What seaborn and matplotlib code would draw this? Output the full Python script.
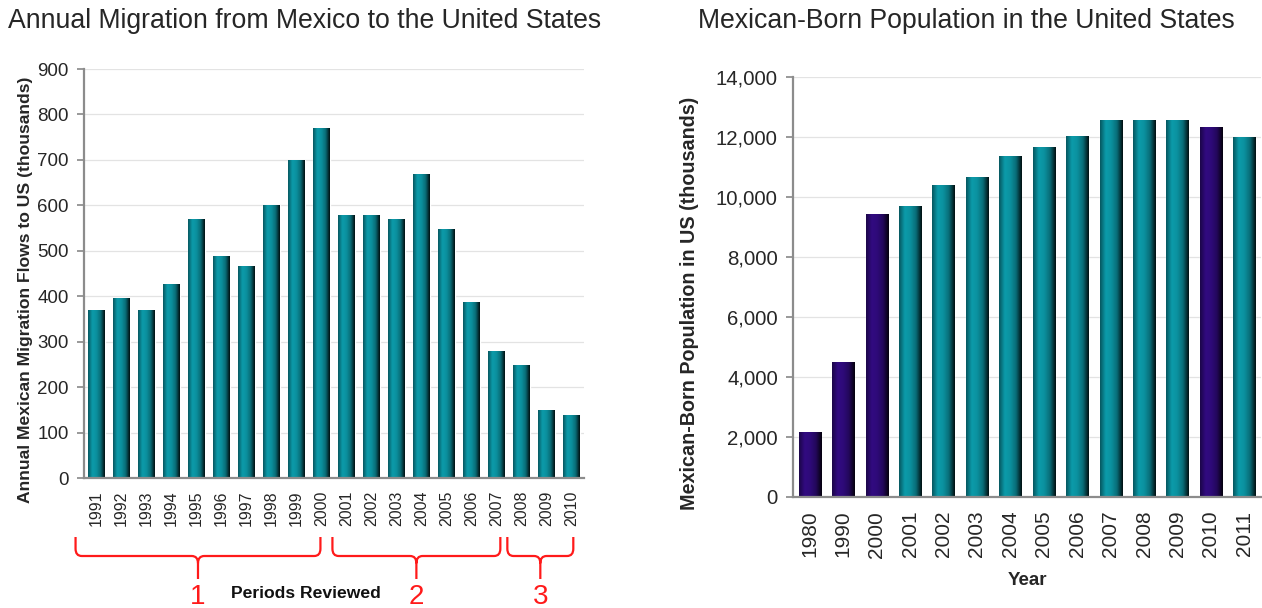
import numpy as np
import pandas as pd
import matplotlib
matplotlib.use("Agg")
import matplotlib.pyplot as plt
import matplotlib.transforms as mtransforms
from matplotlib.path import Path
from matplotlib.patches import PathPatch
from matplotlib.colors import LinearSegmentedColormap
import seaborn as sns

# ---- data ----
flow_years = ["1991", "1992", "1993", "1994", "1995", "1996", "1997", "1998", "1999", "2000",
              "2001", "2002", "2003", "2004", "2005", "2006", "2007", "2008", "2009", "2010"]
flow_values = [370, 397, 370, 428, 569, 488, 467, 600, 700, 770,
               579, 579, 569, 670, 549, 388, 279, 249, 149, 139]

pop_years = ["1980", "1990", "2000", "2001", "2002", "2003", "2004",
             "2005", "2006", "2007", "2008", "2009", "2010", "2011"]
pop_values = [2170, 4490, 9430, 9710, 10410, 10650, 11350,
              11650, 12040, 12550, 12550, 12575, 12330, 11990]
pop_kind = ["census", "census", "census", "estimate", "estimate", "estimate", "estimate",
            "estimate", "estimate", "estimate", "estimate", "estimate", "census", "estimate"]

# periods reviewed: (first year, last year, label)
periods = [("1991", "2000", "1"), ("2001", "2007", "2"), ("2008", "2010", "3")]

TEAL = "#0b909e"
PURPLE = "#2e0a78"
RED = "#ff1a1a"

flows = pd.DataFrame({"year": flow_years, "flow": flow_values})
pop = pd.DataFrame({"year": pop_years, "pop": pop_values, "kind": pop_kind})

sns.set_theme(style="white")
plt.rcParams["font.family"] = ["Liberation Sans", "DejaVu Sans"]

fig = plt.figure(figsize=(12.62, 6.08), dpi=100)
ax1 = fig.add_axes([0.0666, 0.2138, 0.396, 0.6727])
ax2 = fig.add_axes([0.6284, 0.1826, 0.3708, 0.6908])


def shade_bars(ax):
    # cylinder look: gradient clipped to each bar drawn by seaborn
    grad = np.linspace(0, 1, 64).reshape(1, -1)
    for p in list(ax.patches):
        c = np.array(p.get_facecolor()[:3])
        cm = LinearSegmentedColormap.from_list(
            "cyl", [np.clip(c * 0.6, 0, 1), np.clip(c * 1.08, 0, 1), c,
                    np.clip(c * 0.75, 0, 1), c * 0.1])
        x0, y0 = p.get_x(), p.get_y()
        w, h = p.get_width(), p.get_height()
        im = ax.imshow(grad, cmap=cm, aspect="auto", extent=[x0, x0 + w, y0, y0 + h],
                       zorder=p.get_zorder() + 0.1, interpolation="bicubic")
        im.set_clip_path(p)


def style_axes(ax, ymax, step):
    ax.set_ylim(0, ymax)
    ax.set_yticks(np.arange(0, ymax + 1, step))
    ax.yaxis.grid(True, color="#e3e3e3", linewidth=0.9)
    ax.set_axisbelow(True)
    for s in ["top", "right"]:
        ax.spines[s].set_visible(False)
    for s in ["left", "bottom"]:
        ax.spines[s].set_color("#8c8c8c")
        ax.spines[s].set_linewidth(1.6)
    ax.tick_params(axis="y", left=True, length=5, color="#8c8c8c", pad=6)
    ax.tick_params(axis="x", bottom=False, rotation=90)


# ---- left chart: annual flows ----
sns.barplot(data=flows, x="year", y="flow", color=TEAL, width=0.68,
            saturation=1, ax=ax1)
shade_bars(ax1)
style_axes(ax1, 900, 100)
ax1.set_xlim(-0.5, len(flow_years) - 0.5)
ax1.tick_params(axis="y", labelsize=13.5)
ax1.tick_params(axis="x", labelsize=11.5, pad=3)
ax1.set_ylabel("Annual Mexican Migration Flows to US (thousands)", fontsize=12.6,
               fontweight="bold")
ax1.yaxis.set_label_coords(-0.102, 0.46)
ax1.set_xlabel("")
fig.text(0.006, 0.965, "Annual Migration from Mexico to the United States",
         fontsize=19.2, color="#262626", ha="left", va="center")

# red braces under the year labels
trans = mtransforms.blended_transform_factory(ax1.transData, fig.transFigure)
y_top, y_mid, y_tip = 1 - 537 / 608, 1 - 556 / 608, 1 - 579 / 608
r = 0.25
ry = 0.012
for first, last, lab in periods:
    xa = flow_years.index(first) - (0.84 if lab == "1" else 0.56)
    xb = flow_years.index(last) + {"1": -0.04, "2": 0.16, "3": 0.08}[lab]
    xm = (xa + xb) / 2
    verts = [(xa, y_top), (xa, y_mid + ry), (xa, y_mid), (xa + r, y_mid),
             (xm - r, y_mid), (xm, y_mid), (xm, y_mid - ry), (xm, y_tip),
             (xm, y_mid - ry), (xm, y_mid), (xm + r, y_mid),
             (xb - r, y_mid), (xb, y_mid), (xb, y_mid + ry), (xb, y_top)]
    codes = [Path.MOVETO, Path.LINETO, Path.CURVE3, Path.CURVE3,
             Path.LINETO, Path.CURVE3, Path.CURVE3, Path.LINETO,
             Path.MOVETO, Path.CURVE3, Path.CURVE3,
             Path.LINETO, Path.CURVE3, Path.CURVE3, Path.LINETO]
    ax1.add_patch(PathPatch(Path(verts, codes), transform=trans, fill=False,
                            edgecolor=RED, linewidth=1.6, clip_on=False))
    ax1.text(xm, 1 - 597 / 608, lab, transform=trans, ha="center", va="center",
             fontsize=20, color=RED)
fig.text(306 / 1262, 1 - 594 / 608, "Periods Reviewed", ha="center", va="center",
         fontsize=12.6, fontweight="bold", color="#111111")

# ---- right chart: Mexican-born population ----
sns.barplot(data=pop, x="year", y="pop", hue="kind",
            palette={"census": PURPLE, "estimate": TEAL}, width=0.66,
            saturation=1, legend=False, dodge=False, ax=ax2)
shade_bars(ax2)
style_axes(ax2, 14000, 2000)
ax2.set_xlim(-0.5, len(pop_years) - 0.5)
ax2.yaxis.set_major_formatter(matplotlib.ticker.StrMethodFormatter("{x:,.0f}"))
ax2.tick_params(axis="y", labelsize=14.7, pad=6)
ax2.tick_params(axis="x", labelsize=15, pad=4)
ax2.set_ylabel("Mexican-Born Population in US (thousands)", fontsize=14.2,
               fontweight="bold")
ax2.yaxis.set_label_coords(-0.200, 0.46)
ax2.set_xlabel("Year", fontsize=13.5, fontweight="bold", labelpad=10)
fig.text(966 / 1262, 0.965, "Mexican-Born Population in the United States",
         fontsize=19.2, color="#262626", ha="center", va="center")

fig.savefig("out.png", dpi=100)
